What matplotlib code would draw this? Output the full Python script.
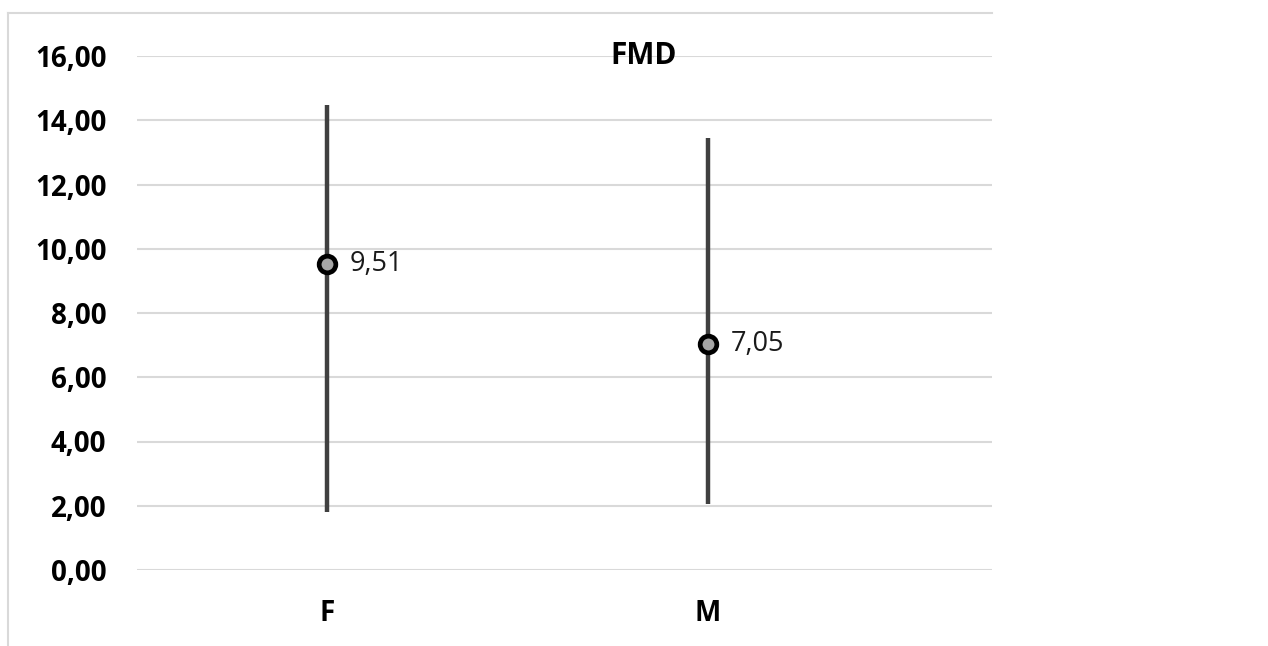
import matplotlib.pyplot as plt
from matplotlib.lines import Line2D

plt.rcParams['font.family'] = ['Open Sans', 'DejaVu Sans']

categories = ['F', 'M']
means = [9.51, 7.05]
lows = [1.81, 2.06]
highs = [14.49, 13.46]
mean_labels = ['9,51', '7,05']
yticks = [0, 2, 4, 6, 8, 10, 12, 14, 16]
ytick_labels = ['0,00', '2,00', '4,00', '6,00', '8,00', '10,00', '12,00', '14,00', '16,00']

W, H = 1268, 646
fig = plt.figure(figsize=(W / 100, H / 100), dpi=100)
ax = fig.add_axes([137 / W, (H - 570) / H, (992 - 137) / W, (570 - 56) / H])

x = list(range(len(categories)))
ax.vlines(x, lows, highs, colors='#404040', linewidth=3.2, zorder=3)
ax.plot(x, means, 'o', markersize=12, markerfacecolor='#a6a6a6',
        markeredgecolor='black', markeredgewidth=3.4, zorder=4)
for xi, m, lab in zip(x, means, mean_labels):
    ax.annotate(lab, (xi, m), xytext=(16, 0), textcoords='offset points',
                ha='left', va='center', fontsize=19.5, color='#1a1a1a')

ax.set_xlim(-0.4987, 1.745)
ax.set_ylim(0, 16)
ax.set_yticks(yticks)
ax.set_yticklabels(ytick_labels)
ax.set_xticks(x)
ax.set_xticklabels(categories)
for lab in ax.get_yticklabels() + ax.get_xticklabels():
    lab.set_fontweight('bold')
    lab.set_fontsize(20)
ax.tick_params(axis='both', length=0)
ax.tick_params(axis='y', pad=22)
ax.tick_params(axis='x', pad=21)

ax.grid(axis='y', color='#d9d9d9', linewidth=1.5, zorder=0)
ax.set_axisbelow(True)
for s in ax.spines.values():
    s.set_visible(False)

ax.text(0.83, 16, 'FMD', ha='center', va='center', fontsize=21.5,
        fontweight='bold', color='black')

# chart frame (top and left edges)
fig.add_artist(Line2D([8 / W, 992 / W], [1 - 12.5 / H, 1 - 12.5 / H],
                      color='#d9d9d9', linewidth=1.5))
fig.add_artist(Line2D([8 / W, 8 / W], [1 - 12.5 / H, 0],
                      color='#d9d9d9', linewidth=1.5))

fig.savefig('out.png', dpi=100)
